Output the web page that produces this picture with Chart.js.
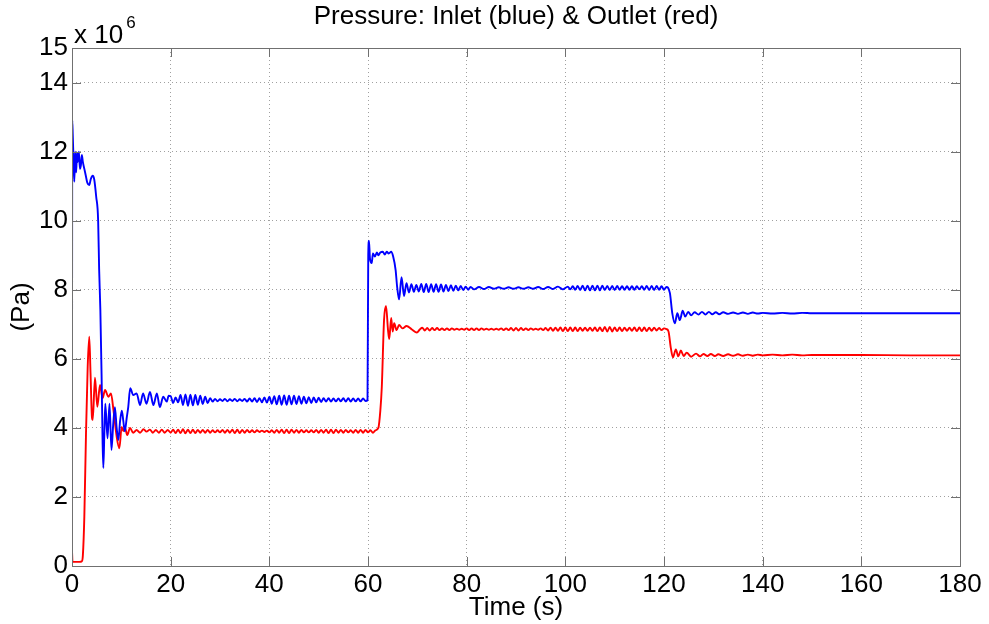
<!DOCTYPE html>
<html>
<head>
<meta charset="utf-8">
<script src="https://cdn.jsdelivr.net/npm/chart.js@4/dist/chart.umd.min.js"></script>
<style>
html,body{margin:0;padding:0;background:#fff;}
#wrap{width:989px;height:624px;position:relative;}
</style>
</head>
<body>
<div id="wrap"><canvas id="c" width="989" height="624"></canvas></div>
<script>
// ---- DATA (pressure in units of 10^6 Pa, time in s) ----
const chartTitle = "Pressure: Inlet (blue) & Outlet (red)";
const xTitle = "Time (s)";
const yTitle = "(Pa)";
const yExponentLabel = "x 10";
const yExponent = "6";
const xTickValues = [0, 20, 40, 60, 80, 100, 120, 140, 160, 180];
const yTickValues = [0, 2, 4, 6, 8, 10, 12, 14, 15];

const inletSeries = [
 [0,4.4],[0.05,12.9],[0.15,12.5],[0.3,11.8],[0.47,11.13],[0.65,12.0],[0.85,11.4],[1.0,11.96],[1.15,11.7],[1.4,12.0],
 [1.6,11.5],[1.8,11.6],[2.0,11.9],[2.2,11.7],[2.5,11.5],[2.8,11.3],[3.1,11.1],[3.5,11.03],[3.8,11.2],[4.2,11.3],
 [4.5,11.2],[4.9,10.7],[5.3,10.0],[5.5,8.6],[5.75,7.4],[6.0,5.5],[6.2,3.6],[6.35,2.84],[6.55,3.8],[6.75,4.7],
 [7.2,3.7],[7.6,4.7],[8.0,3.36],[8.35,4.1],[8.7,4.6],[9.05,4.0],[9.4,3.65],[9.75,4.2],[10.1,4.5],[10.4,4.2],
 [10.7,3.9],[11.1,4.3],[11.4,4.6],[11.8,5.15],[12.4,4.95],[13.1,5.0],[13.8,4.66],[14.4,5.0],[15.1,4.7],[15.8,5.04],
 [16.5,4.66],[17.2,5.0],[17.8,4.6],[18.5,4.9],[19.2,4.76],[19.6,4.93],
 [20,4.92],[20.5,4.72],[21,4.88],[21.5,4.74],[22,4.95],[22.5,4.66],[23,4.97],[23.5,4.64],[24,4.96],[24.5,4.65],
 [25,4.95],[25.5,4.67],[26,4.93],[26.5,4.69],[27,4.9],[27.5,4.72],[28,4.86],[28.5,4.76],[29,4.84],[29.5,4.77],
 [30,4.83],[30.5,4.78],[31,4.84],[31.5,4.77],[32,4.83],[32.5,4.78],[33,4.84],[33.5,4.77],[34,4.83],[34.5,4.78],
 [35,4.84],[35.5,4.76],[36,4.85],[36.5,4.76],[37,4.86],[37.5,4.75],[38,4.86],[38.5,4.74],[39,4.88],[39.5,4.73],
 [40,4.9],[40.5,4.7],[41,4.92],[41.5,4.68],[42,4.93],[42.5,4.67],[43,4.94],[43.5,4.67],[44,4.93],[44.5,4.68],
 [45,4.93],[45.5,4.69],[46,4.92],[46.5,4.7],[47,4.9],[47.5,4.71],[48,4.89],[48.5,4.72],[49,4.88],[49.5,4.74],
 [50,4.87],[50.5,4.75],[51,4.86],[51.5,4.76],[52,4.86],[52.5,4.76],[53,4.85],[53.5,4.77],[54,4.85],[54.5,4.77],
 [55,4.86],[55.5,4.76],[56,4.86],[56.5,4.76],[57,4.85],[57.5,4.77],[58,4.85],[58.5,4.77],[59,4.85],[59.5,4.78],
 [59.9,4.8],[60.05,9.0],[60.2,9.42],[60.4,8.9],[60.75,8.77],[61.0,9.05],[61.4,8.96],[61.8,9.08],[62.1,9.0],[62.5,9.08],
 [63.0,9.1],[63.4,9.02],[63.8,9.1],[64.2,9.05],[64.7,9.1],[65.1,8.96],[65.6,8.57],[65.9,8.09],[66.3,7.72],[66.8,8.36],
 [67.3,7.82],[67.8,8.19],[68.3,7.92],[68.8,8.16],[69.3,7.94],[69.8,8.14],[70.3,7.95],[70.8,8.17],[71.3,7.93],[71.8,8.17],
 [72.3,7.93],[72.8,8.16],[73.3,7.94],[73.8,8.16],[74.3,7.94],[74.8,8.15],[75.3,7.95],[75.8,8.14],[76.3,7.96],[76.8,8.13],
 [77.3,7.97],[77.8,8.12],[78.3,7.98],[78.8,8.11],[79.3,7.99],[79.8,8.09],[80.3,8.0],[80.8,8.08],[81.5,8.01],[82.5,8.08],
 [83.5,8.02],[84.5,8.08],[85.5,8.03],[86.5,8.07],[87.5,8.03],[88.5,8.07],[89.5,8.03],[90.5,8.07],[91.5,8.03],[92.5,8.07],
 [93.5,8.03],[94.5,8.08],[95.5,8.02],[96.5,8.08],[97.5,8.02],[98.5,8.09],[99.5,8.01],[100.5,8.09],[101,8.01],[101.5,8.1],
 [102,8.0],[102.5,8.11],[103,7.99],[103.5,8.12],[104,7.98],[104.5,8.12],[105,7.98],[105.5,8.12],[106,7.98],[106.5,8.12],
 [107,7.98],[107.5,8.12],[108,7.99],[108.5,8.11],[109,7.99],[109.5,8.11],[110,7.99],[110.5,8.11],[111,8.0],[111.5,8.1],
 [112,8.0],[112.5,8.1],[113,8.0],[113.5,8.1],[114,8.0],[114.5,8.1],[115,8.01],[115.5,8.1],[116,8.0],[116.5,8.11],
 [117,7.99],[117.5,8.11],[118,7.99],[118.5,8.11],[119,8.0],[119.5,8.1],[120,8.0],[120.5,8.08],[120.8,8.06],[121.2,7.9],
 [121.7,7.3],[122.2,7.03],[122.7,7.32],[123.2,7.12],[123.8,7.39],[124.3,7.22],[124.9,7.36],[125.5,7.26],[126.2,7.35],[127,7.28],
 [127.7,7.36],[128.4,7.28],[129.1,7.36],[129.8,7.29],[130.5,7.35],[131.2,7.29],[132,7.35],[133,7.3],[134,7.34],[135,7.3],
 [136,7.34],[137,7.3],[138,7.34],[139,7.31],[140,7.33],[142,7.31],[144,7.33],[146,7.31],[148,7.33],[150,7.32],
 [155,7.32],[160,7.32],[170,7.32],[180,7.32]
];

const outletSeries = [
 [0,0.45],[0.1,0.12],[1.5,0.12],[2.0,0.14],[2.2,0.3],[2.5,1.43],[2.84,3.85],[3.18,5.77],[3.5,6.64],[3.75,5.6],
 [4.05,4.3],[4.2,4.23],[4.66,5.45],[5.13,4.61],[5.68,5.24],[6.2,4.86],[6.7,5.1],[7.36,4.9],[7.9,5.0],[8.4,4.52],
 [9.06,3.74],[9.6,3.41],[10.07,4.03],[10.4,3.91],[10.75,4.0],[11.2,3.79],[11.76,4.0],[12.4,3.86],[13.1,3.94],[13.8,3.86],
 [14.5,3.96],[15.1,3.89],[15.8,3.95],[16.4,3.86],[17.0,3.94],[17.6,3.86],[18.2,3.95],[18.8,3.86],[19.4,3.94],
 [20,3.86],[20.5,3.95],[21,3.85],[21.5,3.95],[22,3.85],[22.5,3.96],[23,3.84],[23.5,3.95],[24,3.85],[24.5,3.95],
 [25,3.85],[25.5,3.94],[26,3.86],[26.5,3.94],[27,3.86],[27.5,3.94],[28,3.86],[28.5,3.93],[29,3.87],[29.5,3.93],
 [30,3.87],[30.5,3.94],[31,3.86],[31.5,3.94],[32,3.86],[32.5,3.95],[33,3.85],[33.5,3.95],[34,3.85],[34.5,3.94],
 [35,3.86],[35.5,3.94],[36,3.87],[36.5,3.93],[37,3.87],[37.5,3.93],[38,3.88],[38.5,3.92],[39,3.88],[39.5,3.92],
 [40,3.87],[40.5,3.93],[41,3.86],[41.5,3.94],[42,3.86],[42.5,3.95],[43,3.85],[43.5,3.95],[44,3.85],[44.5,3.95],
 [45,3.86],[45.5,3.94],[46,3.86],[46.5,3.94],[47,3.87],[47.5,3.93],[48,3.87],[48.5,3.93],[49,3.87],[49.5,3.94],
 [50,3.86],[50.5,3.94],[51,3.86],[51.5,3.95],[52,3.85],[52.5,3.95],[53,3.85],[53.5,3.95],[54,3.86],[54.5,3.94],
 [55,3.86],[55.5,3.94],[56,3.87],[56.5,3.93],[57,3.86],[57.5,3.94],[58,3.86],[58.5,3.94],[59,3.86],[59.5,3.94],
 [60,3.87],[60.5,3.93],[61,3.86],[61.5,3.93],[62.1,4.0],[62.5,4.5],[62.8,5.19],[63.25,7.12],[63.65,7.53],[64.06,6.83],
 [64.3,6.57],[64.7,7.18],[65.0,6.79],[65.3,7.03],[65.8,6.83],[66.3,6.98],[67.0,6.88],[67.8,6.95],[68.9,6.85],[69.9,6.76],
 [70.5,6.85],[71,6.9],[71.5,6.82],[72,6.89],[72.5,6.82],[73,6.89],[73.5,6.83],[74,6.89],[74.5,6.83],[75,6.88],
 [75.5,6.83],[76,6.88],[76.5,6.83],[77,6.88],[77.5,6.84],[78,6.87],[78.5,6.84],[79,6.87],[79.5,6.84],[80,6.88],
 [80.5,6.83],[81,6.88],[81.5,6.83],[82,6.88],[82.5,6.83],[83,6.88],[83.5,6.84],[84,6.87],[84.5,6.84],[85,6.87],
 [85.5,6.84],[86,6.87],[86.5,6.84],[87,6.88],[87.5,6.83],[88,6.88],[88.5,6.83],[89,6.89],[89.5,6.82],[90,6.89],
 [90.5,6.82],[91,6.89],[91.5,6.83],[92,6.88],[92.5,6.83],[93,6.88],[93.5,6.84],[94,6.87],[94.5,6.84],[95,6.88],
 [95.5,6.83],[96,6.89],[96.5,6.82],[97,6.9],[97.5,6.81],[98,6.9],[98.5,6.81],[99,6.91],[99.5,6.8],[100,6.91],
 [100.5,6.8],[101,6.91],[101.5,6.8],[102,6.91],[102.5,6.8],[103,6.9],[103.5,6.81],[104,6.9],[104.5,6.81],[105,6.9],
 [105.5,6.81],[106,6.91],[106.5,6.8],[107,6.91],[107.5,6.8],[108,6.92],[108.5,6.79],[109,6.92],[109.5,6.79],[110,6.91],
 [110.5,6.8],[111,6.91],[111.5,6.8],[112,6.9],[112.5,6.81],[113,6.9],[113.5,6.81],[114,6.91],[114.5,6.8],[115,6.91],
 [115.5,6.8],[116,6.91],[116.5,6.8],[117,6.9],[117.5,6.81],[118,6.9],[118.5,6.82],[119,6.89],[119.5,6.83],[120,6.88],
 [120.5,6.86],[120.9,6.8],[121.4,6.3],[121.8,6.04],[122.4,6.27],[122.9,6.07],[123.4,6.24],[124,6.08],[124.6,6.18],[125.5,6.06],
 [126.5,6.15],[127.3,6.07],[128,6.14],[128.8,6.08],[129.5,6.14],[130.3,6.08],[131,6.13],[132,6.08],[133,6.13],[134,6.09],
 [135,6.13],[136,6.09],[137,6.12],[138,6.09],[139,6.12],[140,6.1],[142,6.12],[144,6.1],[146,6.12],[148,6.1],
 [150,6.11],[160,6.11],[170,6.1],[180,6.1]
];

// ---- CHART ----
const FONT = "'Liberation Sans', Arial, Helvetica, sans-serif";
const AXIS_COLOR = '#707070';

const boxPlugin = {
  id: 'matlabBox',
  afterDraw(chart) {
    const ctx = chart.ctx;
    const a = chart.chartArea;
    const xs = chart.scales.x, ys = chart.scales.y;
    ctx.save();
    ctx.strokeStyle = AXIS_COLOR;
    ctx.lineWidth = 1;
    ctx.setLineDash([]);
    ctx.strokeRect(Math.round(a.left) + 0.5, Math.round(a.top) + 0.5,
                   Math.round(a.right - a.left), Math.round(a.bottom - a.top));
    const tl = 9;
    ctx.beginPath();
    xTickValues.forEach(v => {
      const px = Math.round(xs.getPixelForValue(v)) + 0.5;
      ctx.moveTo(px, a.bottom); ctx.lineTo(px, a.bottom - tl);
      ctx.moveTo(px, a.top); ctx.lineTo(px, a.top + tl);
    });
    yTickValues.forEach(v => {
      const py = Math.round(ys.getPixelForValue(v)) + 0.5;
      ctx.moveTo(a.left, py); ctx.lineTo(a.left + tl, py);
      ctx.moveTo(a.right, py); ctx.lineTo(a.right - tl, py);
    });
    ctx.stroke();
    // title
    ctx.fillStyle = '#000';
    ctx.font = '26px ' + FONT;
    ctx.textAlign = 'center';
    ctx.textBaseline = 'middle';
    ctx.fillText(chartTitle, (a.left + a.right) / 2, 17);
    // exponent label
    ctx.font = '26px ' + FONT;
    ctx.textAlign = 'left';
    ctx.textBaseline = 'alphabetic';
    ctx.fillText(yExponentLabel, a.left + 2, 43);
    const w = ctx.measureText(yExponentLabel).width;
    ctx.font = '17px ' + FONT;
    ctx.fillText(yExponent, a.left + 2 + w + 3, 28);
    ctx.restore();
  }
};

new Chart(document.getElementById('c'), {
  type: 'line',
  data: {
    datasets: [
      { label: 'Inlet', data: inletSeries.map(p => ({x: p[0], y: p[1]})),
        borderColor: '#0000ff', borderWidth: 1.9, pointRadius: 0, cubicInterpolationMode: 'monotone', fill: false },
      { label: 'Outlet', data: outletSeries.map(p => ({x: p[0], y: p[1]})),
        borderColor: '#ff0000', borderWidth: 1.9, pointRadius: 0, cubicInterpolationMode: 'monotone', fill: false }
    ]
  },
  options: {
    responsive: false,
    animation: false,
    layout: { padding: { top: 48, right: 29, left: 0, bottom: 0 } },
    plugins: { legend: { display: false }, tooltip: { enabled: false }, title: { display: false } },
    scales: {
      x: {
        type: 'linear', min: 0, max: 180,
        afterFit(s) { s.height = 58; },
        afterBuildTicks(s) { s.ticks = xTickValues.map(v => ({ value: v })); },
        ticks: { color: '#000', font: { family: FONT, size: 26 }, padding: 3, maxRotation: 0, autoSkip: false },
        grid: { color: '#a0a0a0', drawTicks: false, lineWidth: 1 },
        border: { display: false, dash: [1, 3] },
        title: { display: true, text: xTitle, color: '#000', font: { family: FONT, size: 26 }, padding: { top: 0, bottom: 1 } }
      },
      y: {
        type: 'linear', min: 0, max: 15,
        afterFit(s) { s.width = 72; },
        afterBuildTicks(s) { s.ticks = yTickValues.map(v => ({ value: v })); },
        ticks: { color: '#000', font: { family: FONT, size: 26 }, padding: 4, autoSkip: false },
        grid: { color: '#a0a0a0', drawTicks: false, lineWidth: 1 },
        border: { display: false, dash: [1, 3] },
        title: { display: true, text: yTitle, color: '#000', font: { family: FONT, size: 26 }, padding: { top: 6, bottom: 0 } }
      }
    }
  },
  plugins: [boxPlugin]
});
</script>
</body>
</html>
